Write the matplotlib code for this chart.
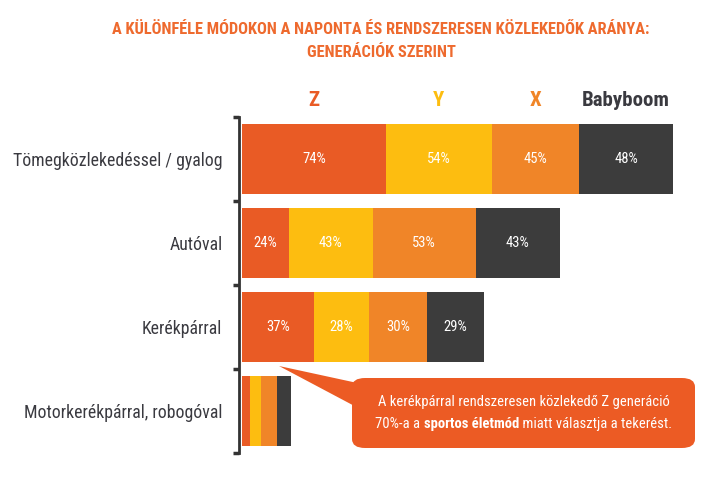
import matplotlib
matplotlib.use("Agg")
import matplotlib.pyplot as plt
from matplotlib import font_manager
from matplotlib.patches import FancyBboxPatch, Polygon
from matplotlib.offsetbox import TextArea, HPacker, VPacker, AnnotationBbox

# Données
categories = ["Tömegközlekedéssel / gyalog", "Autóval", "Kerékpárral",
              "Motorkerékpárral, robogóval"]
generations = ["Z", "Y", "X", "Babyboom"]
z_vals = [74, 24, 37, 4]
y_vals = [54, 43, 28, 6]
x_vals = [45, 53, 30, 8]
bb_vals = [48, 43, 29, 7]
show_labels = [True, True, True, False]

colors = ["#E95B25", "#FDBD10", "#F08528", "#3C3C3C"]
title_color = "#EE6A2E"
text_color = "#3A3A40"

# Police étroite si disponible
available = {f.name for f in font_manager.fontManager.ttflist}
fam = []
for name in ["Liberation Sans Narrow", "Roboto Condensed", "Roboto", "DejaVu Sans"]:
    if name in available:
        fam.append(name)
plt.rcParams["font.family"] = fam + ["DejaVu Sans"]

W, H = 727, 496
fig = plt.figure(figsize=(W / 100, H / 100), dpi=100)

ax_left, ax_right, ax_top, ax_bottom = 239, 700, 117, 453
ax = fig.add_axes([ax_left / W, (H - ax_bottom) / H,
                   (ax_right - ax_left) / W, (ax_bottom - ax_top) / H])

series = [z_vals, y_vals, x_vals, bb_vals]
rows = list(range(len(categories)))
lefts = [0] * len(categories)
for s, vals in enumerate(series):
    ax.barh(rows, vals, left=lefts, height=0.83, color=colors[s], linewidth=0)
    for r in rows:
        if show_labels[r]:
            ax.text(lefts[r] + vals[r] / 2, r, f"{vals[r]}%", ha="center",
                    va="center", color="white", fontsize=10.5)
    # en-têtes au-dessus de la première ligne
    hc = text_color if generations[s] == "Babyboom" else colors[s]
    ax.text(lefts[0] + vals[0] / 2, 1.05, generations[s], ha="center",
            va="center", color=hc, fontsize=15, fontweight="bold",
            transform=ax.get_xaxis_transform())
    lefts = [lefts[i] + vals[i] for i in rows]

ax.set_xlim(-1.5, (ax_right - ax_left) / 1.95 - 1.5)
ax.set_ylim(len(categories) - 0.5, -0.5)

for side in ["top", "right", "bottom"]:
    ax.spines[side].set_visible(False)
ax.spines["left"].set_color("#333333")
ax.spines["left"].set_linewidth(2)
ax.set_xticks([])
ax.set_yticks(rows, categories)
ax.tick_params(axis="y", which="major", length=0, pad=12, labelsize=12.8,
               labelcolor=text_color)
ax.set_yticks([r - 0.5 for r in rows] + [len(rows) - 0.5], minor=True)
ax.tick_params(axis="y", which="minor", length=4, width=2.5, color="#333333")

# Titre
fig.text(0.524, 0.94, "A KÜLÖNFÉLE MÓDOKON A NAPONTA ÉS RENDSZERESEN KÖZLEKEDŐK ARÁNYA:",
         ha="center", va="center", color=title_color, fontsize=11.8, fontweight="bold")
fig.text(0.524, 0.895, "GENERÁCIÓK SZERINT", ha="center", va="center",
         color=title_color, fontsize=11.8, fontweight="bold")

# Bulle
box_color = "#EC5B24"
bx0, bx1, by0, by1 = 352, 695, 378, 448
fig.patches.append(FancyBboxPatch((bx0 / W, (H - by1) / H), (bx1 - bx0) / W,
                                  (by1 - by0) / H,
                                  boxstyle="round,pad=0,rounding_size=0.018",
                                  transform=fig.transFigure, color=box_color,
                                  linewidth=0, zorder=5))
fig.patches.append(Polygon([(279 / W, (H - 366) / H), (362 / W, (H - 384) / H),
                            (362 / W, (H - 410) / H)], closed=True,
                           transform=fig.transFigure, color=box_color,
                           linewidth=0, zorder=5))

tp = dict(color="white", fontsize=10.5)
line1 = TextArea("A kerékpárral rendszeresen közlekedő Z generáció", textprops=tp)
line2 = HPacker(children=[TextArea("70%-a a ", textprops=tp),
                          TextArea("sportos életmód", textprops=dict(tp, fontweight="bold")),
                          TextArea(" miatt választja a tekerést.", textprops=tp)],
                sep=0, pad=0, align="baseline")
pack = VPacker(children=[line1, line2], sep=6, pad=0, align="center")
ab = AnnotationBbox(pack, ((bx0 + bx1) / 2 / W, (H - (by0 + by1) / 2) / H),
                    xycoords="figure fraction", frameon=False, zorder=6)
fig.add_artist(ab)

fig.savefig("out.png", dpi=100)
